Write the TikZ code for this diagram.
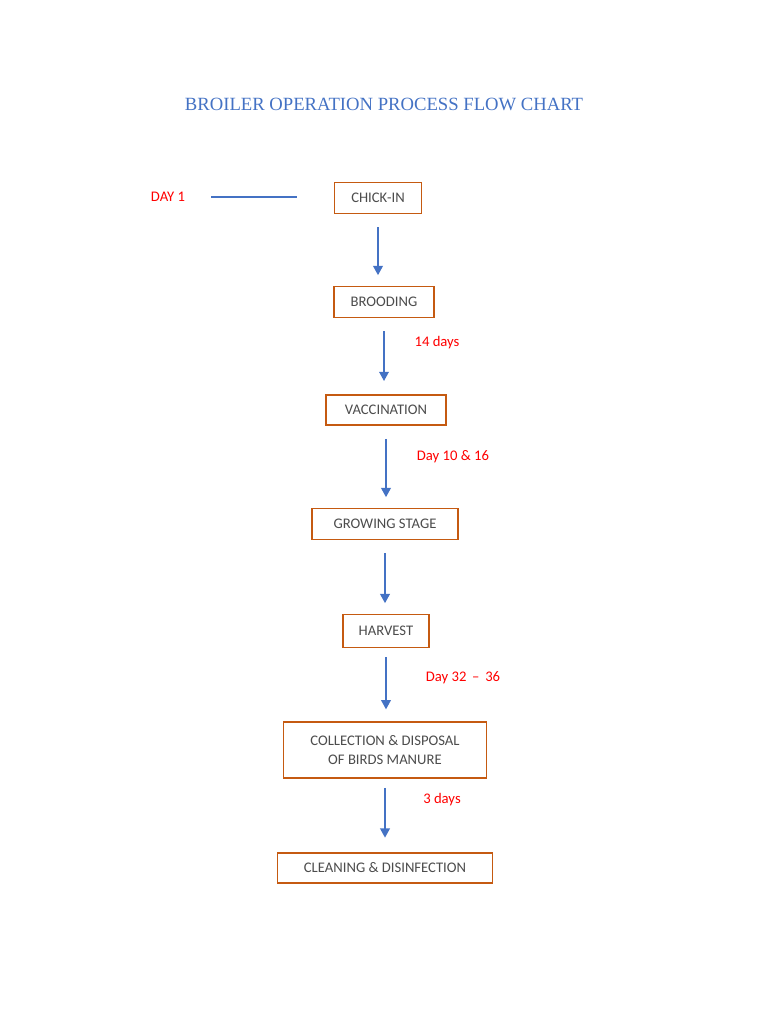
\documentclass[tikz,border=0pt]{standalone}
\usepackage{fontspec}
\setmainfont{Carlito}
\newfontfamily\titlefont{Liberation Serif}
\usetikzlibrary{arrows.meta}
\definecolor{stepline}{HTML}{C55A11}
\definecolor{flowblue}{HTML}{4472C4}
\definecolor{daysred}{HTML}{FF0000}
\tikzset{
    stepbox/.style={draw=stepline, line width=0.8pt, inner sep=0pt, font=\fontsize{11}{14}\selectfont, text=black!70, align=center},
    daytext/.style={text=daysred, font=\fontsize{11}{14}\selectfont},
    flow/.style={draw=flowblue, line width=2.2pt, -{Triangle[length=7pt,width=7pt]}},
}

\begin{document}
\begin{tikzpicture}[x=0.75pt, y=-0.75pt]

    \useasboundingbox (0,0) rectangle (768,1024);

    \node[text=flowblue, font=\titlefont\fontsize{14}{16}\selectfont] (T) at (384,104) {BROILER OPERATION PROCESS FLOW CHART};

    % steps
    \node[stepbox, minimum width=87*0.75pt, minimum height=31*0.75pt] (C) at (378,198) {CHICK-IN};
    \node[stepbox, minimum width=100*0.75pt, minimum height=31*0.75pt] (B) at (384,302) {BROODING};
    \node[stepbox, minimum width=120*0.75pt, minimum height=30*0.75pt] (V) at (386,410) {VACCINATION};
    \node[stepbox, minimum width=146*0.75pt, minimum height=31*0.75pt] (G) at (385,524) {GROWING STAGE};
    \node[stepbox, minimum width=86*0.75pt, minimum height=33*0.75pt] (H) at (386,631) {HARVEST};
    \node[stepbox, minimum width=203*0.75pt, minimum height=56*0.75pt] (M) at (385,750) {COLLECTION \& DISPOSAL\\OF BIRDS MANURE};
    \node[stepbox, minimum width=215*0.75pt, minimum height=30*0.75pt] (K) at (385,868) {CLEANING \& DISINFECTION};

    % day labels
    \node[daytext] (D1) at (168,197) {DAY 1};
    \node[daytext] (D2) at (437,343) {14 days};
    \node[daytext] (D3) at (453,457) {Day 10 \& 16};
    \node[daytext] (D4) at (463,678) {Day 32 \,--\, 36};
    \node[daytext] (D5) at (442,800) {3 days};

    \draw[flowblue, line width=1.5pt, shorten <=16pt, shorten >=28pt] (D1.east) -- (D1.east -| C.west);

    \draw[flow, shorten <=10pt, shorten >=8pt] (C.south) -- (C.south |- B.north);
    \draw[flow, shorten <=10pt, shorten >=10pt] (B.south) -- (B.south |- V.north);
    \draw[flow, shorten <=10pt, shorten >=8pt] (V.south) -- (V.south |- G.north);
    \draw[flow, shorten <=10pt, shorten >=8pt] (G.south) -- (G.south |- H.north);
    \draw[flow, shorten <=7pt, shorten >=9pt] (H.south) -- (H.south |- M.north);
    \draw[flow, shorten <=7pt, shorten >=11pt] (M.south) -- (M.south |- K.north);

\end{tikzpicture}
\end{document}
